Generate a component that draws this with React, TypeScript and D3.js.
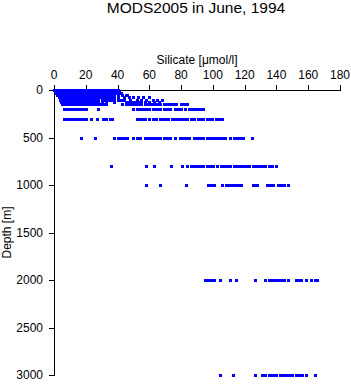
import React from "react";
import * as d3 from "d3";

const title = "MODS2005 in June, 1994";
const xLabel = "Silicate [\u03bcmol/l]";
const yLabel = "Depth [m]";
const xTicks = [0, 20, 40, 60, 80, 100, 120, 140, 160, 180];
const yTicks = [0, 500, 1000, 1500, 2000, 2500, 3000];

const si0 = [0, 1, 2, 3, 4, 5, 6, 7, 8, 9, 10, 11, 12, 13, 14, 15, 16, 17, 18, 19, 20, 21, 22, 23, 24, 25, 26, 27, 28, 29, 30, 31, 32, 33, 34, 35, 36, 37, 38, 39, 40];
const si10 = [0.5, 1.5, 3, 4.5, 6, 7.5, 9, 10.5, 12, 13.5, 15, 16.5, 18, 19.5, 21, 22.5, 24, 25.5, 27, 28.5, 30, 31.5, 33, 34.5, 36, 37.5, 39, 41];
const si20 = [1, 2.5, 4, 5.5, 7, 8.5, 10, 11.5, 13, 14.5, 16, 17.5, 19, 20.5, 22, 23.5, 25, 26.5, 28, 29.5, 31, 32.5, 34, 36, 38, 40, 41];
const si30 = [1.5, 3, 4.5, 6, 7.5, 9, 10.5, 12, 13.5, 15, 16.5, 18, 19.5, 21, 22.5, 24, 25.5, 27, 28.5, 30, 31.5, 33, 35, 37, 39, 42];
const si50 = [2, 3.5, 5, 6.5, 8, 9.5, 11, 12.5, 14, 15.5, 17, 18.5, 20, 21.5, 23, 24.5, 26, 27.5, 29, 30.5, 32, 34, 36, 38, 40, 43, 45, 46];
const si75 = [3, 4.5, 6, 7.5, 9, 10.5, 12, 13.5, 15, 16.5, 18, 19.5, 21, 22.5, 24, 25.5, 27, 28.5, 30, 32, 34, 36, 38, 40, 44, 47, 50, 53, 56, 60];
const si100 = [4, 5.5, 7, 8.5, 10, 11.5, 13, 14.5, 16, 17.5, 19, 20.5, 22, 23.5, 25, 26.5, 28, 30, 32, 34, 36, 38, 40, 42, 44, 48, 52, 55, 58, 62, 65, 68];
const si125 = [4.5, 6, 7.5, 9, 10.5, 12, 13.5, 15, 16.5, 18, 19.5, 21, 22.5, 24, 26, 28, 30, 33, 38, 45, 47, 49, 51, 53, 55, 57, 60, 63, 66];
const si150 = [5, 6.5, 8, 9.5, 11, 12.5, 14, 15.5, 17, 18.5, 20, 21.5, 23, 25, 27, 29, 31, 33, 43, 45, 47, 49, 51, 53, 55, 57, 59, 61, 63, 65, 67, 69, 71, 73, 75, 77, 80, 82, 84];
const si200 = [6.5, 8, 9.5, 11, 12.5, 14, 15.5, 17, 18.5, 20, 27.7, 50, 52, 54, 56, 58, 60, 62, 64, 66, 67, 69, 71, 73, 76, 78, 80, 82.5, 85, 87, 88.5, 90.6, 92, 94];
const si300 = [6, 7.5, 9, 10.5, 12, 13.5, 15, 16.5, 18, 20, 23, 27, 31, 33, 35, 36.5, 52, 54, 56, 57, 60, 62, 64, 67, 68.6, 70, 72, 74, 76, 78, 80, 82, 84, 86, 88, 90.6, 92, 94, 96, 97.5, 99.4, 102, 104, 105.7];
const si500 = [17, 25.8, 38, 40, 42, 44, 46, 50, 52, 54, 57, 59, 61, 63, 65, 67, 69, 71, 73, 76, 79, 81, 83, 85, 88, 90, 92, 94, 96, 98, 100, 102, 104, 106, 107.6, 111, 113, 115, 117, 119, 124.6];
const si800 = [35.9, 58, 63, 73.6, 80.6, 84, 86, 88, 90, 92, 94, 96, 98, 100, 102.6, 105, 107, 109, 111, 113, 115, 117, 119, 121, 123, 125, 127, 129, 131, 133, 135, 137, 139.5];
const si1000 = [58, 66.7, 83, 97, 99, 101, 106, 108, 110, 112, 114, 116, 118, 125, 127, 128, 134, 136, 138, 141, 143, 145, 147.5];
const si2000 = [95, 97, 99, 101, 104.5, 111, 114.5, 126.5, 133, 135, 137, 139, 141, 143, 145, 147, 152, 154, 155.5, 158.6, 162, 164, 165.5];
const si3000 = [104.5, 112.6, 126.5, 131, 133, 135, 136.5, 138, 140, 142, 144, 146, 148, 150, 152, 154, 156, 158.6, 164];

const depths = [0, 10, 20, 30, 50, 75, 100, 125, 150, 200, 300, 500, 800, 1000, 2000, 3000];
const silicateByDepth = [si0, si10, si20, si30, si50, si75, si100, si125, si150, si200, si300, si500, si800, si1000, si2000, si3000];

export default function App() {
  const W = 351, H = 384;
  const x = d3.scaleLinear().domain([0, 180]).range([54, 340]);
  const y = d3.scaleLinear().domain([0, 3000]).range([90, 375]);
  const pts: { s: number; d: number }[] = [];
  depths.forEach((d, i) => silicateByDepth[i].forEach((s) => pts.push({ s, d })));
  const font = "'Liberation Sans', Arial, Helvetica, sans-serif";
  return (
    <svg width={W} height={H} style={{ position: "absolute", left: 0, top: 0, background: "#fff" }} fontFamily={font}>
      <rect width={W} height={H} fill="#fff" />
      <text x={196} y={13} fontSize={15.5} textAnchor="middle" fill="#000">{title}</text>
      <text x={197} y={64} fontSize={12} textAnchor="middle" fill="#000">{xLabel}</text>
      <text transform={`translate(11,${(90 + 375) / 2}) rotate(-90)`} fontSize={12} textAnchor="middle" fill="#000">{yLabel}</text>
      <g shapeRendering="crispEdges">
        <line x1={x(0)} x2={x(180) + 1} y1={90.5} y2={90.5} stroke="#000" strokeWidth={1} />
        <line x1={54.5} x2={54.5} y1={y(0)} y2={y(3000) + 1} stroke="#000" strokeWidth={1} />
        {xTicks.map((t) => (
          <line key={t} x1={Math.round(x(t)) + 0.5} x2={Math.round(x(t)) + 0.5} y1={90.5} y2={84.5} stroke="#000" />
        ))}
        {yTicks.map((t) => (
          <line key={t} x1={48.5} x2={54.5} y1={Math.round(y(t)) + 0.5} y2={Math.round(y(t)) + 0.5} stroke="#000" />
        ))}
      </g>
      <g shapeRendering="crispEdges">
        {pts.map((p, i) => (
          <rect key={i} x={Math.round(x(p.s)) - 1} y={Math.round(y(p.d)) - 1} width={3} height={3} fill="#0000ff" />
        ))}
      </g>
      {xTicks.map((t) => (
        <text key={t} x={x(t)} y={79} fontSize={12} textAnchor="middle" fill="#000">{t}</text>
      ))}
      {yTicks.map((t) => (
        <text key={t} x={43} y={y(t)} dy="0.35em" fontSize={12} textAnchor="end" fill="#000">{t}</text>
      ))}
    </svg>
  );
}
